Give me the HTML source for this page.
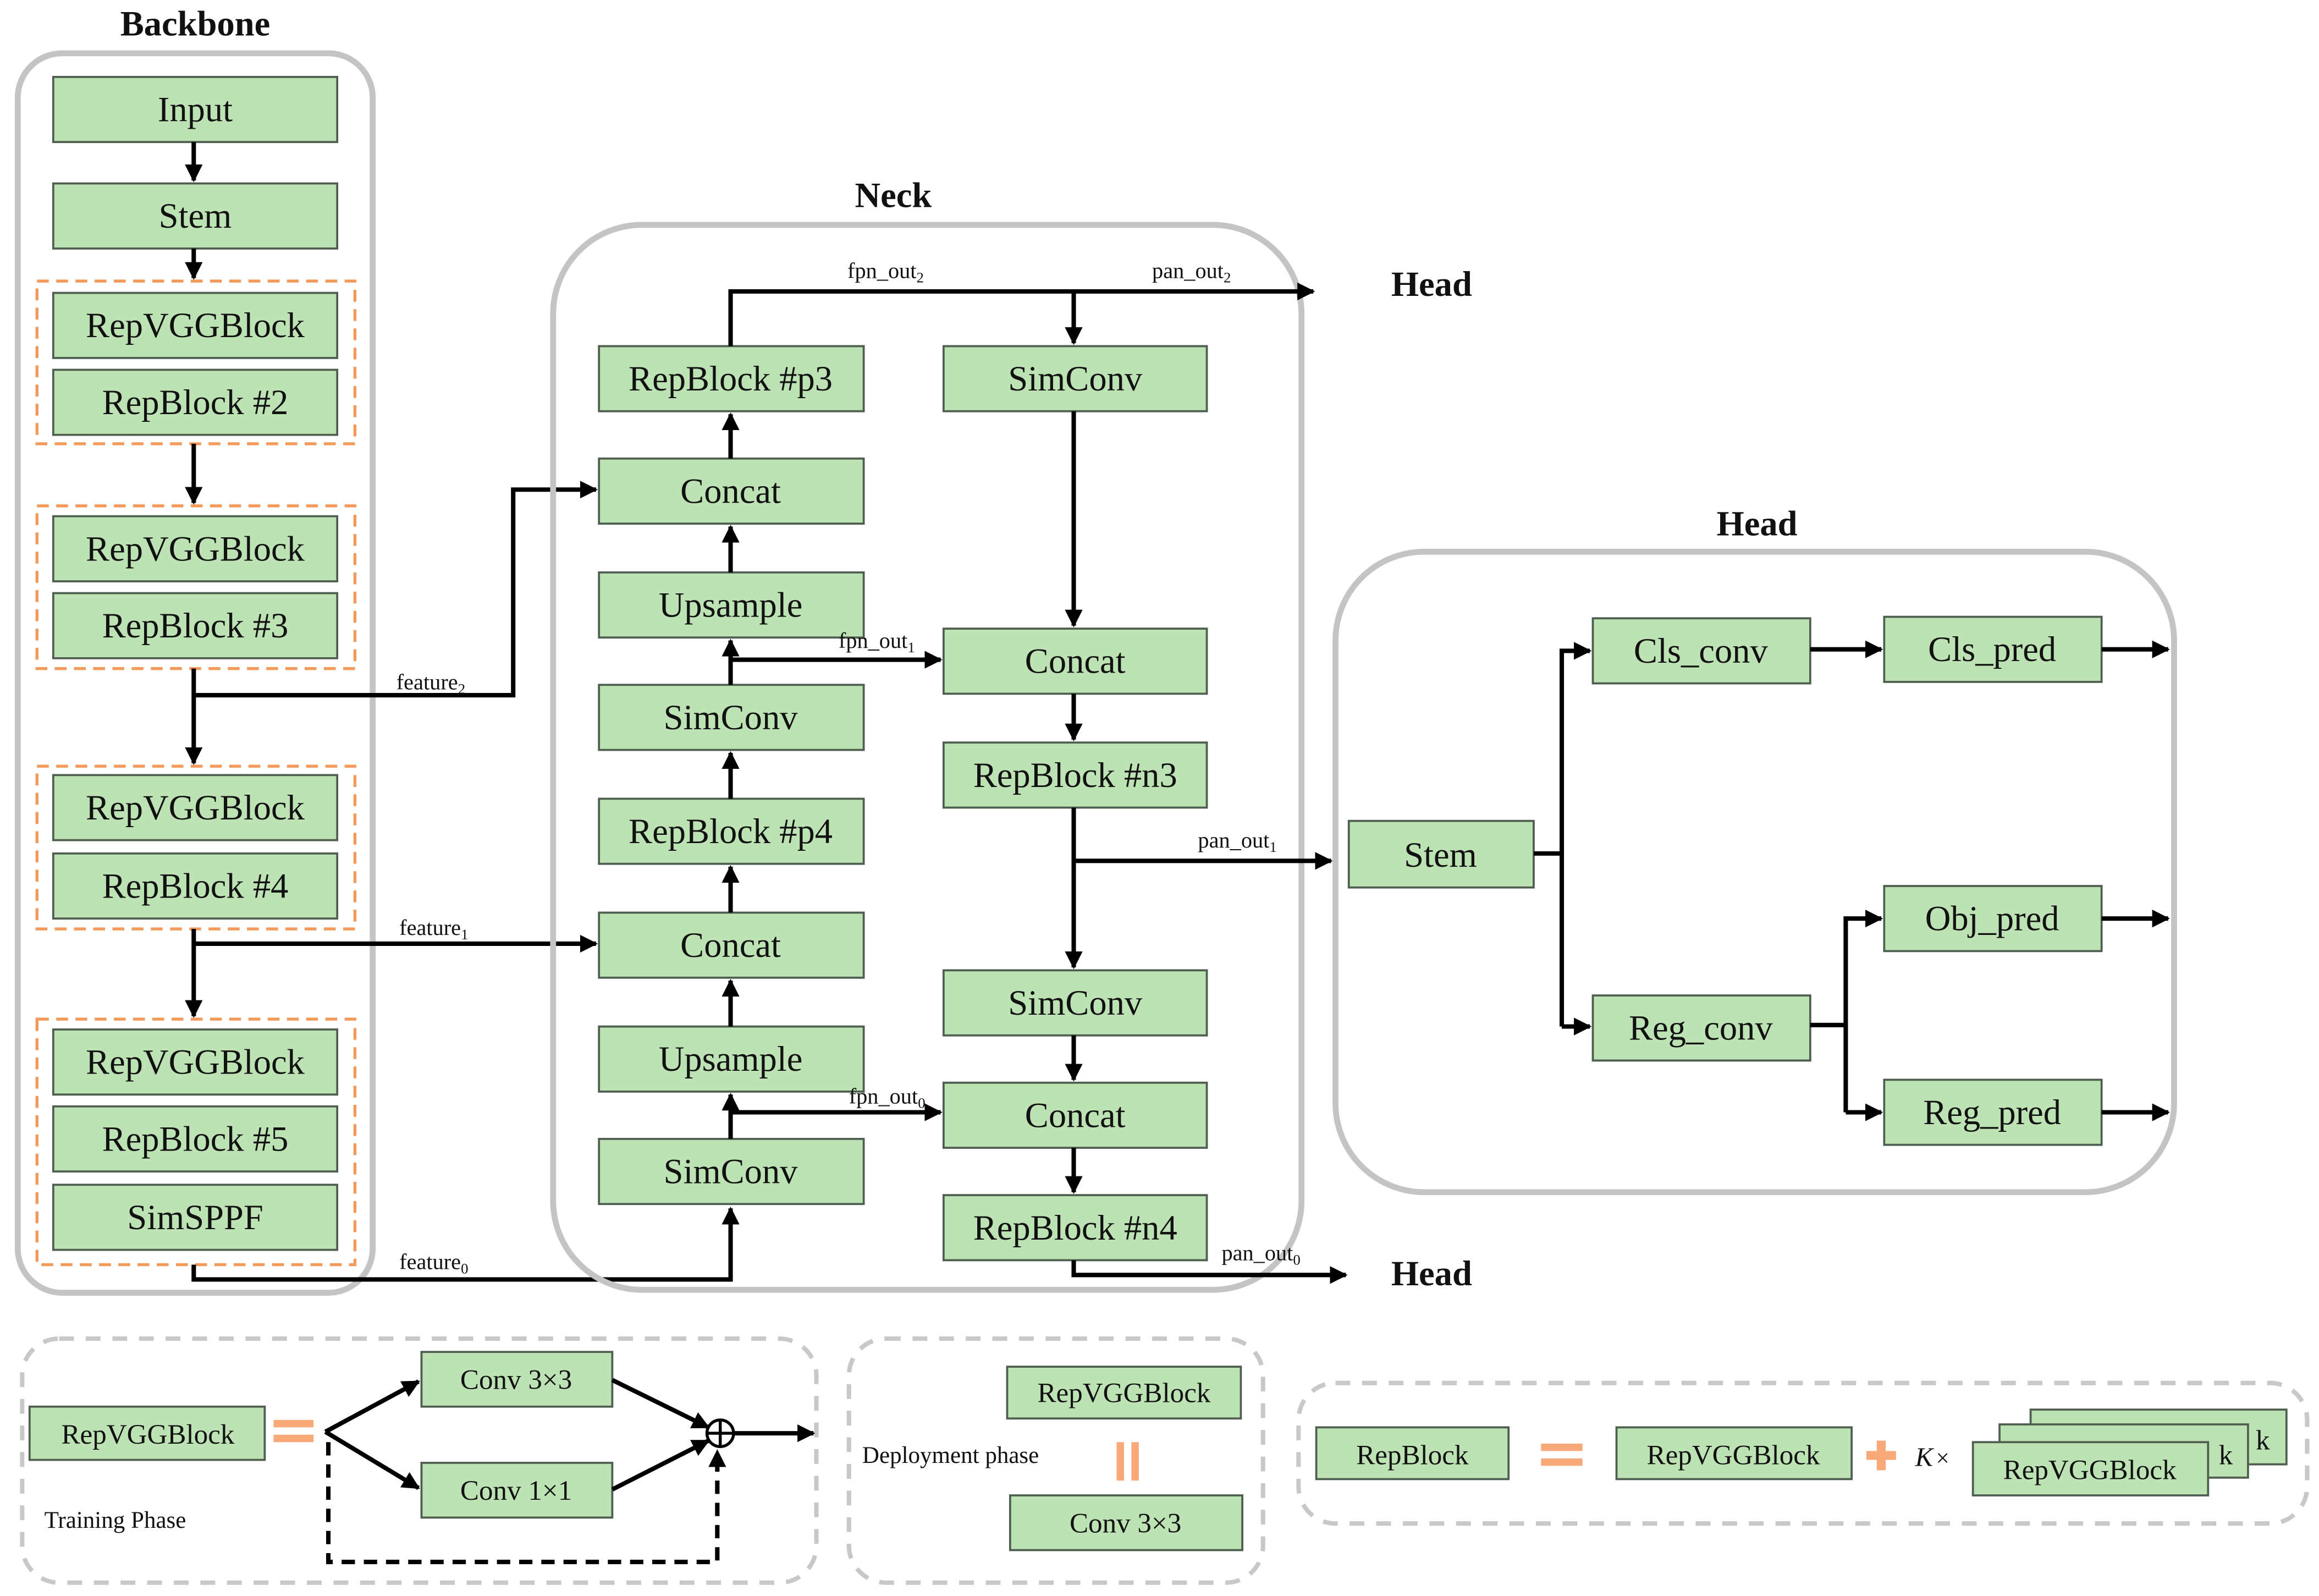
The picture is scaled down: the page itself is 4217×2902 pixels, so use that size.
<!DOCTYPE html>
<html><head><meta charset="utf-8"><style>
html,body{margin:0;padding:0;background:#fff;}
svg{display:block;}
svg text{font-family:"Liberation Serif","Times New Roman",serif !important;fill:#111;}
.b{fill:#bde2b3;stroke:#4f5f4f;stroke-width:1.4;}
.t{font-size:24px;text-anchor:middle;}
.s{font-size:19px;text-anchor:middle;}
.l{font-size:15px;}
.h{font-size:24px;font-weight:bold;text-anchor:middle;}
.a{stroke:#000;stroke-width:3;fill:none;}
.g{fill:none;stroke:#c4c4c4;stroke-width:4;}
.gd{fill:none;stroke:#c8c8c8;stroke-width:3;stroke-dasharray:10 8;}
.o{fill:none;stroke:#f39a5a;stroke-width:2;stroke-dasharray:8 5;}
</style></head><body>
<svg width="4217" height="2902" viewBox="0 0 1568 1079" xmlns="http://www.w3.org/2000/svg" font-family="Liberation Serif, serif">
<defs><marker id="m" viewBox="0 0 10 10" refX="9" refY="5" markerWidth="4" markerHeight="4" orient="auto"><path d="M0,0 L10,5 L0,10 z" fill="#000"/></marker></defs>

<!-- Backbone -->
<text x="132" y="24" class="h">Backbone</text>
<rect x="12" y="36" width="240" height="838" rx="30" class="g"/>
<rect x="25" y="190" width="215" height="110" class="o"/>
<rect x="25" y="342" width="215" height="110" class="o"/>
<rect x="25" y="518" width="215" height="110" class="o"/>
<rect x="25" y="689" width="215" height="166" class="o"/>
<g>
<rect x="36" y="52" width="192" height="44" class="b"/><text x="132" y="82" class="t">Input</text>
<rect x="36" y="124" width="192" height="44" class="b"/><text x="132" y="154" class="t">Stem</text>
<rect x="36" y="198" width="192" height="44" class="b"/><text x="132" y="228" class="t">RepVGGBlock</text>
<rect x="36" y="250" width="192" height="44" class="b"/><text x="132" y="280" class="t">RepBlock #2</text>
<rect x="36" y="349" width="192" height="44" class="b"/><text x="132" y="379" class="t">RepVGGBlock</text>
<rect x="36" y="401" width="192" height="44" class="b"/><text x="132" y="431" class="t">RepBlock #3</text>
<rect x="36" y="524" width="192" height="44" class="b"/><text x="132" y="554" class="t">RepVGGBlock</text>
<rect x="36" y="577" width="192" height="44" class="b"/><text x="132" y="607" class="t">RepBlock #4</text>
<rect x="36" y="696" width="192" height="44" class="b"/><text x="132" y="726" class="t">RepVGGBlock</text>
<rect x="36" y="748" width="192" height="44" class="b"/><text x="132" y="778" class="t">RepBlock #5</text>
<rect x="36" y="801" width="192" height="44" class="b"/><text x="132" y="831" class="t">SimSPPF</text>
</g>
<path d="M131,96 V122" class="a" marker-end="url(#m)"/>
<path d="M131,168 V188" class="a" marker-end="url(#m)"/>
<path d="M131,300 V340" class="a" marker-end="url(#m)"/>
<path d="M131,452 V516" class="a" marker-end="url(#m)"/>
<path d="M131,628 V687" class="a" marker-end="url(#m)"/>
<path d="M131,470 H347 V331 H403" class="a" marker-end="url(#m)"/>
<text x="268" y="466" class="l">feature<tspan font-size="10" dy="3">2</tspan></text>
<path d="M131,638 H403" class="a" marker-end="url(#m)"/>
<text x="270" y="632" class="l">feature<tspan font-size="10" dy="3">1</tspan></text>
<path d="M131,855 V865 H494 V817" class="a" marker-end="url(#m)"/>
<text x="270" y="858" class="l">feature<tspan font-size="10" dy="3">0</tspan></text>

<!-- Neck -->
<text x="604" y="140" class="h">Neck</text>
<rect x="374" y="152" width="506" height="720" rx="60" class="g"/>
<rect x="405" y="234" width="179" height="44" class="b"/><text x="494" y="264" class="t">RepBlock #p3</text>
<rect x="405" y="310" width="179" height="44" class="b"/><text x="494" y="340" class="t">Concat</text>
<rect x="405" y="387" width="179" height="44" class="b"/><text x="494" y="417" class="t">Upsample</text>
<rect x="405" y="463" width="179" height="44" class="b"/><text x="494" y="493" class="t">SimConv</text>
<rect x="405" y="540" width="179" height="44" class="b"/><text x="494" y="570" class="t">RepBlock #p4</text>
<rect x="405" y="617" width="179" height="44" class="b"/><text x="494" y="647" class="t">Concat</text>
<rect x="405" y="694" width="179" height="44" class="b"/><text x="494" y="724" class="t">Upsample</text>
<rect x="405" y="770" width="179" height="44" class="b"/><text x="494" y="800" class="t">SimConv</text>
<rect x="638" y="234" width="178" height="44" class="b"/><text x="727" y="264" class="t">SimConv</text>
<rect x="638" y="425" width="178" height="44" class="b"/><text x="727" y="455" class="t">Concat</text>
<rect x="638" y="502" width="178" height="44" class="b"/><text x="727" y="532" class="t">RepBlock #n3</text>
<rect x="638" y="656" width="178" height="44" class="b"/><text x="727" y="686" class="t">SimConv</text>
<rect x="638" y="732" width="178" height="44" class="b"/><text x="727" y="762" class="t">Concat</text>
<rect x="638" y="808" width="178" height="44" class="b"/><text x="727" y="838" class="t">RepBlock #n4</text>
<path d="M494,310 V280" class="a" marker-end="url(#m)"/>
<path d="M494,387 V356" class="a" marker-end="url(#m)"/>
<path d="M494,463 V433" class="a" marker-end="url(#m)"/>
<path d="M494,540 V509" class="a" marker-end="url(#m)"/>
<path d="M494,617 V586" class="a" marker-end="url(#m)"/>
<path d="M494,694 V663" class="a" marker-end="url(#m)"/>
<path d="M494,770 V740" class="a" marker-end="url(#m)"/>
<path d="M494,234 V197 H888" class="a" marker-end="url(#m)"/>
<path d="M726,197 V232" class="a" marker-end="url(#m)"/>
<text x="573" y="188" class="l">fpn_out<tspan font-size="10" dy="3">2</tspan></text>
<text x="779" y="188" class="l">pan_out<tspan font-size="10" dy="3">2</tspan></text>
<text x="968" y="200" class="h">Head</text>
<path d="M726,278 V423" class="a" marker-end="url(#m)"/>
<path d="M494,446 H636" class="a" marker-end="url(#m)"/>
<text x="567" y="438" class="l">fpn_out<tspan font-size="10" dy="3">1</tspan></text>
<path d="M726,469 V500" class="a" marker-end="url(#m)"/>
<path d="M726,546 V654" class="a" marker-end="url(#m)"/>
<path d="M726,582 H900" class="a" marker-end="url(#m)"/>
<text x="810" y="573" class="l">pan_out<tspan font-size="10" dy="3">1</tspan></text>
<path d="M726,700 V730" class="a" marker-end="url(#m)"/>
<path d="M494,752 H636" class="a" marker-end="url(#m)"/>
<text x="574" y="746" class="l">fpn_out<tspan font-size="10" dy="3">0</tspan></text>
<path d="M726,776 V806" class="a" marker-end="url(#m)"/>
<path d="M726,852 V862 H910" class="a" marker-end="url(#m)"/>
<text x="826" y="852" class="l">pan_out<tspan font-size="10" dy="3">0</tspan></text>
<text x="968" y="869" class="h">Head</text>

<!-- Head -->
<text x="1188" y="362" class="h">Head</text>
<rect x="903" y="373" width="567" height="433" rx="60" class="g"/>
<rect x="912" y="555" width="125" height="45" class="b"/><text x="974" y="586" class="t">Stem</text>
<rect x="1077" y="418" width="147" height="44" class="b"/><text x="1150" y="448" class="t">Cls_conv</text>
<rect x="1274" y="417" width="147" height="44" class="b"/><text x="1347" y="447" class="t">Cls_pred</text>
<rect x="1274" y="599" width="147" height="44" class="b"/><text x="1347" y="629" class="t">Obj_pred</text>
<rect x="1077" y="673" width="147" height="44" class="b"/><text x="1150" y="703" class="t">Reg_conv</text>
<rect x="1274" y="730" width="147" height="44" class="b"/><text x="1347" y="760" class="t">Reg_pred</text>
<path d="M1037,577 H1056" class="a"/>
<path d="M1056,694 V440 H1075" class="a" marker-end="url(#m)"/>
<path d="M1056,694 H1075" class="a" marker-end="url(#m)"/>
<path d="M1224,439 H1272" class="a" marker-end="url(#m)"/>
<path d="M1421,439 H1466" class="a" marker-end="url(#m)"/>
<path d="M1224,693 H1248" class="a"/>
<path d="M1248,752 V621 H1272" class="a" marker-end="url(#m)"/>
<path d="M1248,752 H1272" class="a" marker-end="url(#m)"/>
<path d="M1421,621 H1466" class="a" marker-end="url(#m)"/>
<path d="M1421,752 H1466" class="a" marker-end="url(#m)"/>

<!-- Bottom: training -->
<rect x="15" y="905" width="537" height="165" rx="25" class="gd"/>
<rect x="20" y="951" width="159" height="36" class="b"/><text x="100" y="976" class="s">RepVGGBlock</text>
<rect x="185" y="960" width="27" height="5" fill="#f9a878"/><rect x="185" y="970" width="27" height="5" fill="#f9a878"/>
<rect x="285" y="914" width="129" height="37" class="b"/><text x="349" y="939" class="s">Conv 3×3</text>
<rect x="285" y="989" width="129" height="37" class="b"/><text x="349" y="1014" class="s">Conv 1×1</text>
<path d="M220,968 L283,934" class="a" marker-end="url(#m)"/>
<path d="M220,968 L283,1006" class="a" marker-end="url(#m)"/>
<path d="M414,933 L479,965" class="a" marker-end="url(#m)"/>
<path d="M414,1007 L479,974" class="a" marker-end="url(#m)"/>
<circle cx="487" cy="969" r="9" fill="#fff" stroke="#000" stroke-width="2"/>
<path d="M478,969 H496 M487,960 V978" stroke="#000" stroke-width="2"/>
<path d="M496,969 H550" class="a" marker-end="url(#m)"/>
<path d="M222,975 V1056 H485 V981" class="a" stroke-dasharray="9 6" marker-end="url(#m)"/>
<text x="30" y="1033" class="l" style="font-size:16px">Training Phase</text>

<!-- Deployment -->
<rect x="574" y="905" width="280" height="165" rx="25" class="gd"/>
<rect x="681" y="924" width="158" height="35" class="b"/><text x="760" y="948" class="s">RepVGGBlock</text>
<rect x="755" y="975" width="5" height="26" fill="#f9a878"/><rect x="765" y="975" width="5" height="26" fill="#f9a878"/>
<rect x="683" y="1011" width="157" height="37" class="b"/><text x="761" y="1036" class="s">Conv 3×3</text>
<text x="583" y="989" class="l" style="font-size:16px">Deployment phase</text>

<!-- RepBlock -->
<rect x="878" y="935" width="682" height="95" rx="25" class="gd"/>
<rect x="890" y="965" width="130" height="35" class="b"/><text x="955" y="990" class="s">RepBlock</text>
<rect x="1042" y="976" width="28" height="5" fill="#f9a878"/><rect x="1042" y="986" width="28" height="5" fill="#f9a878"/>
<rect x="1093" y="965" width="159" height="35" class="b"/><text x="1172" y="990" class="s">RepVGGBlock</text>
<path d="M1262,984 H1282 M1272,974 V994" stroke="#f9a878" stroke-width="6"/>
<text x="1295" y="991" style="font-size:18px;font-style:italic">K</text><text x="1309" y="991" style="font-size:16px">×</text>
<rect x="1373" y="953" width="173" height="37" class="b"/><text x="1530" y="980" class="s">k</text>
<rect x="1352" y="963" width="168" height="36" class="b"/><text x="1505" y="990" class="s">k</text>
<rect x="1334" y="975" width="159" height="36" class="b"/><text x="1413" y="1000" class="s">RepVGGBlock</text>
</svg>
</body></html>
